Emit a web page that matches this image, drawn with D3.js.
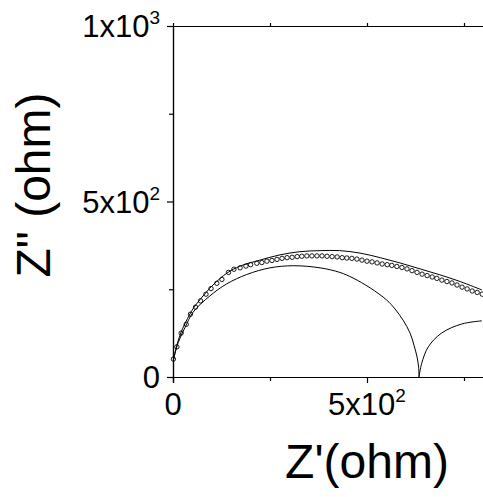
<!DOCTYPE html>
<html>
<head>
<meta charset="utf-8">
<script src="https://cdn.jsdelivr.net/npm/d3@7"></script>
<style>
    body { margin: 0; background: white; }
    svg { display: block; font-family: "Liberation Sans", Arial, sans-serif; }
</style>
</head>
<body>
<div id="chart"></div>
<script>
// Målte punkter (cirkler)
const measZre = [1, 10, 21, 34, 45, 58, 71, 85, 98, 113, 126, 143, 157, 173, 188, 200, 216, 229,
    242, 255, 268, 281, 294, 307, 320, 332, 345, 358, 371, 384, 397, 410, 423, 436, 448, 461,
    474, 487, 500, 513, 526, 539, 552, 564, 577, 590, 603, 616, 629, 642, 655, 668, 680, 693,
    706, 719, 732, 745, 758, 771, 784, 797];
const measZim = [51, 86, 125, 150, 179, 199, 217, 236, 252, 267, 278, 298, 307, 311, 316, 320, 324, 326,
    330, 332, 335, 338, 340, 341, 343, 344, 345, 345, 345, 345, 344, 343, 342, 340, 339, 338,
    336, 333, 330, 328, 325, 322, 320, 318, 315, 312, 308, 303, 298, 293, 289, 285, 281, 276,
    272, 268, 262, 256, 251, 245, 241, 236];

// Fit-kurven
const fitZre = [1, 10, 21, 33, 52, 70, 103, 139, 173, 224, 276, 327, 379, 430, 482, 534, 585, 637, 688, 740, 796];
const fitZim = [48, 91, 128, 157, 195, 221, 262, 296, 316, 333, 348, 357, 360, 360, 353, 340, 325, 308, 291, 272, 248];

// Første bue
const arc1Zre = [1, 13, 31, 52, 95, 138, 190, 250, 310, 379, 430, 464, 508, 551, 572, 593, 611, 621, 629, 633, 634];
const arc1Zim = [48, 97, 141, 185, 231, 265, 292, 311, 317, 311, 298, 282, 254, 219, 194, 162, 125, 91, 57, 28, 0];

// Anden bue
const arc2Zre = [634, 641, 658, 692, 744, 796];
const arc2Zim = [0, 39, 86, 125, 151, 160];

// Akser
const xTickValues = [0, 500];
const xTickLabels = [["0", ""], ["5x10", "2"]];
const xMinorTicks = [250, 750];
const yTickValues = [0, 500, 1000];
const yTickLabels = [["0", ""], ["5x10", "2"], ["1x10", "3"]];
const yMinorTicks = [250, 750];

const width = 483;
const height = 497;

const svg = d3.select("#chart")
    .append("svg")
    .attr("width", width)
    .attr("height", height);

// Scale-funktioner
const xScale = d3.scaleLinear()
    .domain([0, 1000])
    .range([173, 561]);

const yScale = d3.scaleLinear()
    .domain([0, 1000])
    .range([377, 26]);

// tegn akserne
const yAxis = d3.axisLeft(yScale)
    .tickValues(yTickValues)
    .tickSize(6)
    .tickFormat("");

const yAxisMinor = d3.axisLeft(yScale)
    .tickValues(yMinorTicks)
    .tickSize(4)
    .tickFormat("");

const xAxis = d3.axisBottom(xScale)
    .tickValues(xTickValues)
    .tickSize(6)
    .tickFormat("");

const xAxisMinor = d3.axisBottom(xScale)
    .tickValues(xMinorTicks)
    .tickSize(4)
    .tickFormat("");

const xAxisTop = d3.axisTop(xScale)
    .tickValues([250, 500, 750])
    .tickSize(3)
    .tickFormat("");

function styleAxis(g) {
    g.select(".domain").attr("stroke-width", 1.2);
    g.selectAll(".tick line").attr("stroke-width", 1.2);
}

svg.append("g").attr("transform", "translate(173,0)").call(yAxis).call(styleAxis);
svg.append("g").attr("transform", "translate(173,0)").call(yAxisMinor).call(styleAxis);
svg.append("g").attr("transform", "translate(0,377)").call(xAxis).call(styleAxis);
svg.append("g").attr("transform", "translate(0,377)").call(xAxisMinor).call(styleAxis);
svg.append("g").attr("transform", "translate(0,26)").call(xAxisTop).call(styleAxis);

// tick-labels med potens
const yLabels = svg.selectAll(".ylab")
    .data(yTickValues)
    .enter()
    .append("text")
    .attr("class", "ylab")
    .attr("x", 160)
    .attr("y", d => yScale(d) + 11)
    .attr("text-anchor", "end")
    .attr("font-size", 31)
    .attr("fill", "black");
yLabels.append("tspan").text((d, i) => yTickLabels[i][0]);
yLabels.append("tspan").attr("font-size", 19).attr("dy", -13).text((d, i) => yTickLabels[i][1]);

const xLabels = svg.selectAll(".xlab")
    .data(xTickValues)
    .enter()
    .append("text")
    .attr("class", "xlab")
    .attr("x", d => xScale(d))
    .attr("y", 415)
    .attr("text-anchor", "middle")
    .attr("font-size", 31)
    .attr("fill", "black");
xLabels.append("tspan").text((d, i) => xTickLabels[i][0]);
xLabels.append("tspan").attr("font-size", 19).attr("dy", -13).text((d, i) => xTickLabels[i][1]);

// akse-titler
svg.append("text")
    .attr("x", 367)
    .attr("y", 478)
    .attr("text-anchor", "middle")
    .attr("font-size", 48)
    .text("Z'(ohm)");

svg.append("text")
    .attr("transform", "translate(50,185) rotate(-90)")
    .attr("text-anchor", "middle")
    .attr("font-size", 48)
    .text("Z\" (ohm)");

// kurver
const line = d3.line()
    .x(d => xScale(d[0]))
    .y(d => yScale(d[1]))
    .curve(d3.curveCatmullRom);

function drawCurve(zre, zim) {
    svg.append("path")
        .datum(zre.map((v, i) => [v, zim[i]]))
        .attr("d", line)
        .attr("fill", "none")
        .attr("stroke", "black")
        .attr("stroke-width", 1);
}
drawCurve(arc1Zre, arc1Zim);
drawCurve(arc2Zre, arc2Zim);
drawCurve(fitZre, fitZim);

svg.selectAll(".meas")
    .data(measZre)
    .enter()
    .append("circle")
    .attr("class", "meas")
    .attr("cx", d => xScale(d))
    .attr("cy", (d, i) => yScale(measZim[i]))
    .attr("r", 2.2)
    .attr("fill", "none")
    .attr("stroke", "black")
    .attr("stroke-width", 0.9);
</script>
</body>
</html>
